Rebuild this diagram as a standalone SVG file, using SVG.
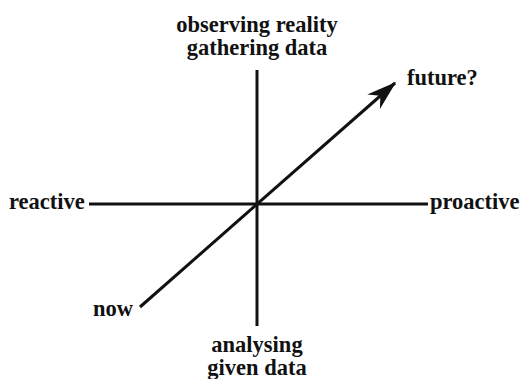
<svg xmlns="http://www.w3.org/2000/svg" width="523" height="379" viewBox="0 0 523 379">
<defs>
<style>
.t{font-family:"Liberation Serif","Times New Roman",serif;font-weight:bold;font-size:22.5px;fill:#111}
.ax{stroke:#111;stroke-width:3;fill:none}
</style>
<marker id="ah" markerWidth="10" markerHeight="7" refX="9.5" refY="3.5" orient="auto" markerUnits="strokeWidth">
<path d="M0,0.3 L10,3.5 L0,6.7 L3,3.5 Z" fill="#111"/>
</marker>
</defs>
<rect width="523" height="379" fill="#fff"/>
<g id="connectors">
<line class="ax" x1="257" y1="70" x2="257" y2="326"/>
<line class="ax" x1="89" y1="204" x2="428" y2="204"/>
<line class="ax" x1="140" y1="307" x2="395" y2="83" marker-end="url(#ah)"/>
</g>
<g id="top"><text class="t" x="257" y="32" text-anchor="middle">observing reality</text><text class="t" x="257" y="55" text-anchor="middle">gathering data</text></g>
<g id="future"><text class="t" x="407" y="85">future?</text></g>
<g id="reactive"><text class="t" x="9" y="209">reactive</text></g>
<g id="proactive"><text class="t" x="430" y="209">proactive</text></g>
<g id="now"><text class="t" x="93" y="316">now</text></g>
<g id="bottom"><text class="t" x="257" y="352" text-anchor="middle">analysing</text><text class="t" x="257" y="375" text-anchor="middle">given data</text></g>
</svg>
